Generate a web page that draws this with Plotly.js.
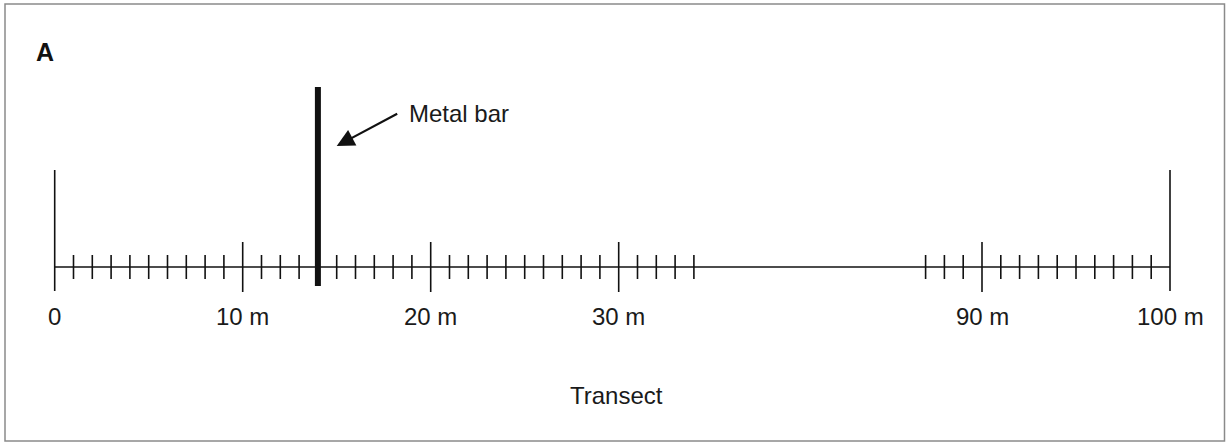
<!DOCTYPE html>
<html>
<head>
<meta charset="utf-8">
<script src="https://cdn.plot.ly/plotly-3.0.1.min.js"></script>
<style>
  html, body { margin: 0; padding: 0; background: #ffffff; }
  #chart { width: 1226px; height: 443px; }
</style>
</head>
<body>
<div id="chart"></div>
<script>
// ---- Data (metres along the transect) ----
const transectExtent = [0, 100];
const minorTicksNear = [1, 2, 3, 4, 5, 6, 7, 8, 9, 11, 12, 13, 14, 15, 16, 17, 18, 19, 21, 22, 23, 24, 25, 26, 27, 28, 29, 31, 32, 33, 34];
const minorTicksFar = [87, 88, 89, 91, 92, 93, 94, 95, 96, 97, 98, 99];
const majorTicksNear = [10, 20, 30];
const majorTicksFar = [90];
const endPostsNear = [0];
const endPostsFar = [100];
const labelValuesNear = [0, 10, 20, 30];
const labelTextsNear = ['0', '10 m', '20 m', '30 m'];
const labelValuesFar = [90, 100];
const labelTextsFar = ['90 m', '100 m'];
const metalBarPosition = [14];
const panelLetter = 'A';
const metalBarLabel = 'Metal bar';
const axisTitle = 'Transect';

// ---- Styles / geometry (vertical extents in px-like units, main line at 0) ----
const S = {
  minorHalf: 12, majorHalf: 25,
  postTop: 97, postBottom: -24,
  barTop: 180, barBottom: -19,
  font: 'Liberation Sans, Arial, Helvetica, sans-serif',
  fontSize: 24
};

function segments(values, y0, y1) {
  const x = [], y = [];
  values.forEach(v => { x.push(v, v, null); y.push(y0, y1, null); });
  return { x, y };
}

const lineStyle = w => ({ color: '#111111', width: w });
const traces = [];
function addSeg(values, y0, y1, xa, w) {
  const s = segments(values, y0, y1);
  traces.push({ type: 'scatter', mode: 'lines', x: s.x, y: s.y, xaxis: xa, yaxis: 'y',
    line: lineStyle(w), hoverinfo: 'skip', showlegend: false });
}
// main transect line on both segments of the broken axis
['x', 'x2'].forEach(xa => traces.push({ type: 'scatter', mode: 'lines', x: transectExtent, y: [0, 0],
  xaxis: xa, yaxis: 'y', line: lineStyle(1.6), hoverinfo: 'skip', showlegend: false }));
addSeg(minorTicksNear, -S.minorHalf, S.minorHalf, 'x', 1.6);
addSeg(minorTicksFar, -S.minorHalf, S.minorHalf, 'x2', 1.6);
addSeg(majorTicksNear, -S.majorHalf, S.majorHalf, 'x', 1.6);
addSeg(majorTicksFar, -S.majorHalf, S.majorHalf, 'x2', 1.6);
addSeg(endPostsNear, S.postBottom, S.postTop, 'x', 1.6);
addSeg(endPostsFar, S.postBottom, S.postTop, 'x2', 1.6);
addSeg(metalBarPosition, S.barBottom, S.barTop, 'x', 6);

const txtFont = { family: S.font, size: S.fontSize, color: '#1a1a1a' };
const annotations = [];
labelValuesNear.forEach((v, i) => annotations.push({ x: v, y: -49, xref: 'x', yref: 'y', text: labelTextsNear[i],
  showarrow: false, xanchor: 'center', yanchor: 'middle', font: txtFont }));
labelValuesFar.forEach((v, i) => annotations.push({ x: v, y: -49, xref: 'x2', yref: 'y', text: labelTextsFar[i],
  showarrow: false, xanchor: 'center', yanchor: 'middle', font: txtFont }));
annotations.push({ x: 18.75, y: 154, xref: 'x', yref: 'y', text: metalBarLabel, showarrow: false,
  xanchor: 'left', yanchor: 'middle', font: txtFont });
annotations.push({ x: 15.0, y: 121, xref: 'x', yref: 'y', text: '', showarrow: true,
  ax: 62, ay: -33, arrowhead: 2, arrowsize: 1.6, arrowwidth: 2.2, arrowcolor: '#111111' });
annotations.push({ x: 616 / 1226, y: -128, xref: 'paper', yref: 'y', text: axisTitle, showarrow: false,
  xanchor: 'center', yanchor: 'middle', font: txtFont });
annotations.push({ x: 34 / 1226, y: 1 - 52 / 443, xref: 'paper', yref: 'paper', text: '<b>' + panelLetter + '</b>',
  showarrow: false, xanchor: 'left', yanchor: 'middle', font: { family: S.font, size: 25, color: '#111111' } });

// broken axis: same scale (18.8 px per metre) on both pieces
const W = 1226, pxPerM = 18.8, zeroPx = 54.7, splitPx = 810, ninetyPx = 982;
const hidden = { showgrid: false, zeroline: false, showticklabels: false, ticks: '', showline: false, fixedrange: true };
const layout = {
  width: W, height: 443,
  margin: { l: 0, r: 0, t: 0, b: 0, pad: 0 },
  paper_bgcolor: '#ffffff', plot_bgcolor: 'rgba(0,0,0,0)',
  showlegend: false,
  xaxis: Object.assign({ domain: [0, splitPx / W], range: [-zeroPx / pxPerM, (splitPx - zeroPx) / pxPerM] }, hidden),
  xaxis2: Object.assign({ domain: [splitPx / W, 1], anchor: 'y',
    range: [90 - (ninetyPx - splitPx) / pxPerM, 90 + (W - ninetyPx) / pxPerM] }, hidden),
  yaxis: Object.assign({ range: [-176, 267] }, hidden),
  annotations: annotations,
  shapes: [{ type: 'rect', xref: 'paper', yref: 'paper', x0: 5 / W, x1: 1224.5 / W, y0: 1 - 441 / 443, y1: 1 - 4 / 443,
    line: { color: '#8a8a8a', width: 1.5 }, fillcolor: 'rgba(0,0,0,0)' }]
};

Plotly.newPlot('chart', traces, layout, { staticPlot: true, displayModeBar: false });
</script>
</body>
</html>
